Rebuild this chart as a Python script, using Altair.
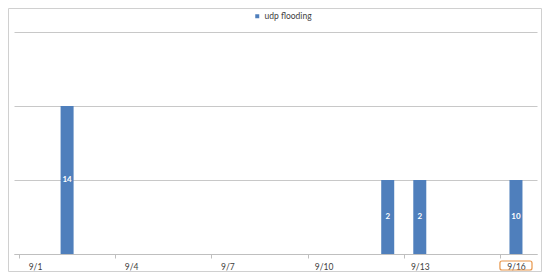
import altair as alt
import pandas as pd

# data
dates = ["9/2", "9/12", "9/13", "9/16"]
heights = [2, 1, 1, 1]          # bar heights in grid units
labels = ["14", "2", "2", "10"]  # data labels shown in the bars
series = "udp flooding"
tick_days = [1, 4, 7, 10, 13, 16]

df = pd.DataFrame({"date": dates, "height": heights, "label": labels,
                   "series": [series] * len(dates)})

FONT = "Lato"
BLUE = "#4f7fbc"

base = alt.Chart(df).transform_calculate(
    day="toNumber(split(datum.date, '/')[1]) + 0.5"
)

x_scale = alt.Scale(domain=[1, 17], nice=False, zero=False)
y_scale = alt.Scale(domain=[0, 3], nice=False)

bars = base.mark_bar(size=13, color=BLUE).encode(
    x=alt.X("day:Q", scale=x_scale, title=None,
            axis=alt.Axis(values=tick_days, grid=False,
                          labelExpr="'9/' + datum.value",
                          labelOffset=16, labelPadding=4,
                          labelFontSize=8.5, labelColor="#404040", labelFont=FONT,
                          tickSize=4, tickColor="#bfbfbf",
                          domainColor="#bfbfbf")),
    y=alt.Y("height:Q", scale=y_scale, title=None,
            axis=alt.Axis(values=[0, 1, 2, 3], labels=False, ticks=False,
                          domain=False, grid=True, gridColor="#c8c8c8")),
    color=alt.Color("series:N", scale=alt.Scale(range=[BLUE]), title=None,
                    legend=alt.Legend(orient="none", legendX=239, legendY=-20,
                                      symbolType="square", symbolSize=16,
                                      labelFontSize=8.5, labelFont=FONT,
                                      labelColor="#404040", labelOffset=3,
                                      symbolStrokeWidth=0)),
)

text = base.mark_text(color="white", fontSize=8, fontWeight="bold",
                      font=FONT).transform_calculate(
    mid="datum.height / 2"
).encode(
    x=alt.X("day:Q", scale=x_scale),
    y=alt.Y("mid:Q", scale=y_scale),
    text="label:N",
)

# outer chart frame
frame = alt.Chart(pd.DataFrame({"k": [0]})).mark_rect(
    fill=None, stroke="#d0d0d0", strokeWidth=1, clip=False
).encode(x=alt.value(-5.5), x2=alt.value(527.5), y=alt.value(-23.5), y2=alt.value(239.5))

# orange highlight box around the last label
hl = alt.Chart(pd.DataFrame({"a": [16], "b": [17]})).mark_rect(
    fill=None, stroke="#e8964a", strokeWidth=1.2, cornerRadius=2, clip=False
).encode(x=alt.X("a:Q", scale=x_scale), x2="b:Q",
         y=alt.value(229), y2=alt.value(238))

chart = alt.layer(frame, bars, text, hl).properties(
    width=523, height=222,
    autosize=alt.AutoSizeParams(type="none"),
    padding={"left": 6, "top": 24, "right": 5, "bottom": 18},
).configure_view(stroke=None)

chart.save("out.html", embed_options={"renderer": "svg", "actions": False})
